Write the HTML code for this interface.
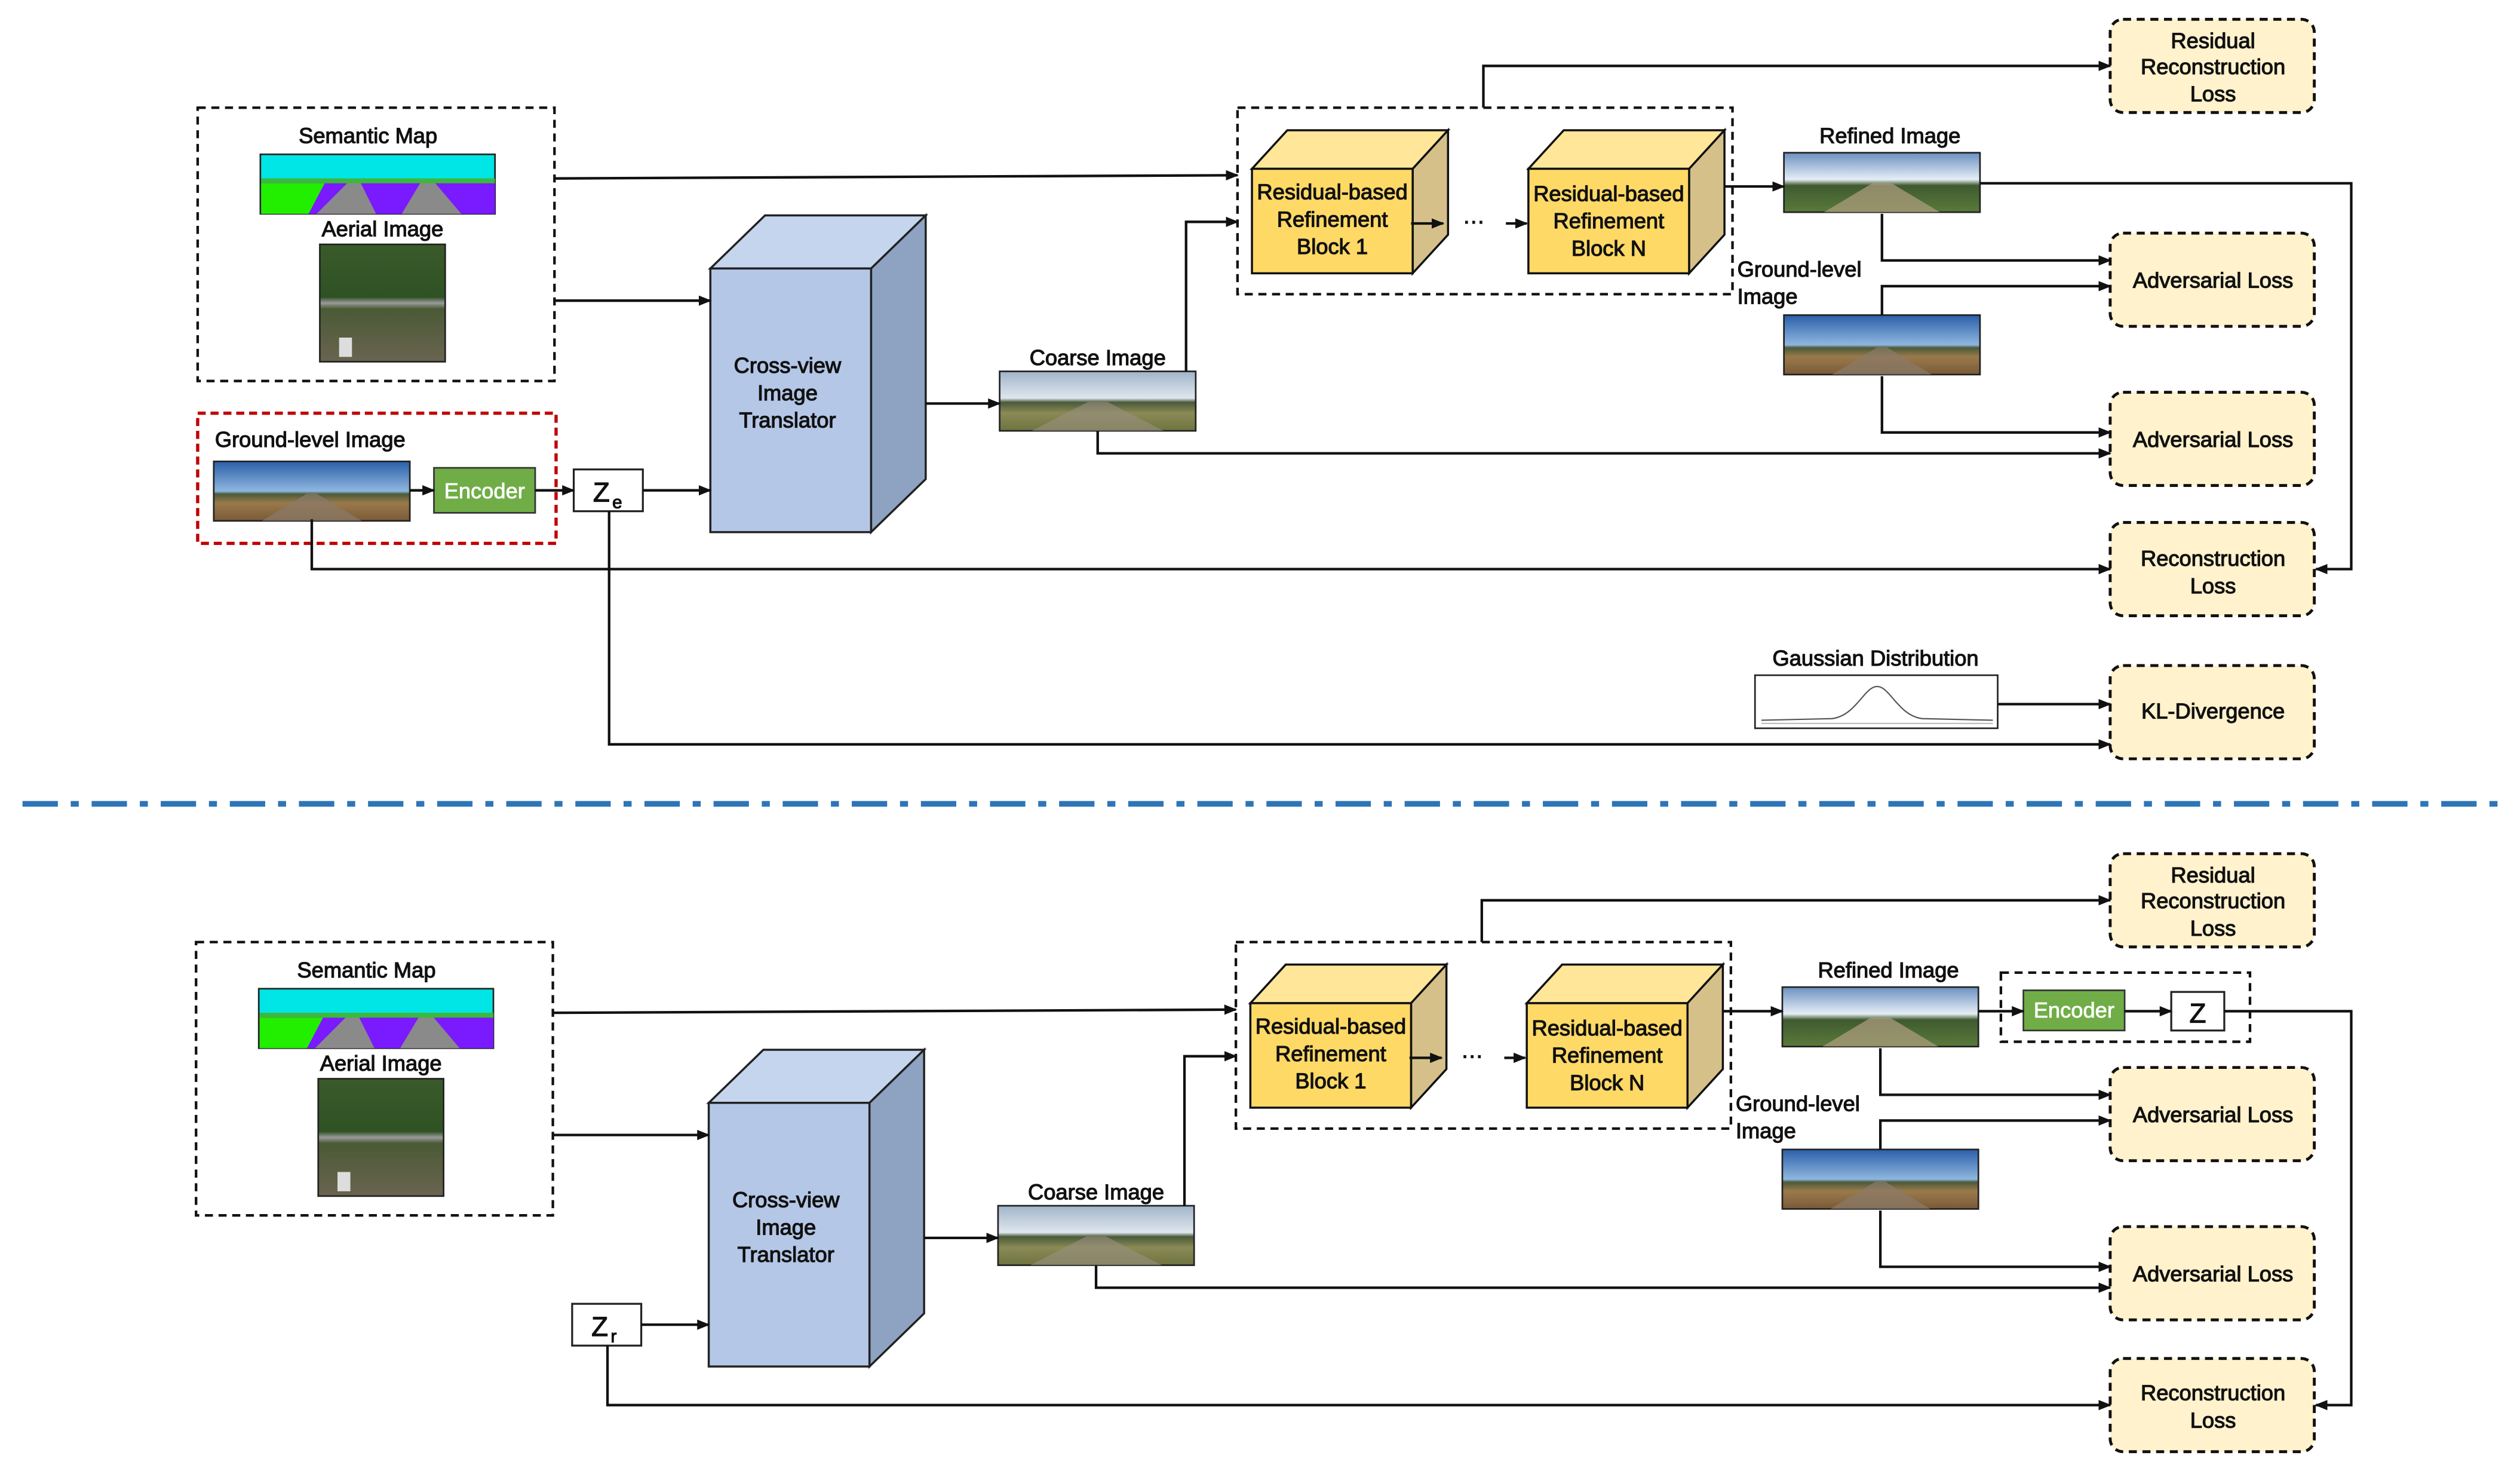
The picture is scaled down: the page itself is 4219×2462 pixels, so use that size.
<!DOCTYPE html>
<html><head><meta charset="utf-8"><style>
html,body{margin:0;padding:0;background:#fff}
svg{display:block}
text{font-family:"Liberation Sans",sans-serif;fill:#111;stroke:#111;stroke-width:0.45}
</style></head><body>
<svg width="4219" height="2462" viewBox="0 0 1568 915" preserveAspectRatio="none" xmlns="http://www.w3.org/2000/svg">
<defs>
<marker id="a" viewBox="0 0 10 10" refX="9" refY="5" markerWidth="5" markerHeight="5" orient="auto"><path d="M0,1 L10,5 L0,9 z" fill="#111"/></marker>
<linearGradient id="sky" x1="0" y1="0" x2="0" y2="1"><stop offset="0" stop-color="#2a5fa8"/><stop offset="0.5" stop-color="#8fb6df"/><stop offset="0.55" stop-color="#4a5a3a"/><stop offset="0.7" stop-color="#9a7a4a"/><stop offset="1" stop-color="#7a5a38"/></linearGradient>
<linearGradient id="sky2" x1="0" y1="0" x2="0" y2="1"><stop offset="0" stop-color="#a0b4c8"/><stop offset="0.45" stop-color="#dfe6ee"/><stop offset="0.52" stop-color="#4a5a3a"/><stop offset="0.7" stop-color="#8a8a55"/><stop offset="1" stop-color="#6f7440"/></linearGradient>
<linearGradient id="sky3" x1="0" y1="0" x2="0" y2="1"><stop offset="0" stop-color="#6a90c0"/><stop offset="0.45" stop-color="#e6eef6"/><stop offset="0.55" stop-color="#3f5a30"/><stop offset="1" stop-color="#5a7a3a"/></linearGradient>
<linearGradient id="aer" x1="0" y1="0" x2="0" y2="1"><stop offset="0" stop-color="#3a5a2a"/><stop offset="0.45" stop-color="#2f5224"/><stop offset="0.5" stop-color="#9a9a9a"/><stop offset="0.55" stop-color="#4a5a35"/><stop offset="1" stop-color="#6a6450"/></linearGradient>
<g id="pano1"><rect width="122" height="37" fill="url(#sky)" stroke="#222" stroke-width="1"/><path d="M30,37 L58,20 L64,20 L92,37z" fill="#8a7a6a" opacity="0.7"/></g>
<g id="pano2"><rect width="122" height="37" fill="url(#sky2)" stroke="#222" stroke-width="1"/><path d="M20,37 L55,19 L67,19 L102,37z" fill="#9a8f80" opacity="0.6"/></g>
<g id="pano3"><rect width="122" height="37" fill="url(#sky3)" stroke="#222" stroke-width="1"/><path d="M25,37 L55,19 L67,19 L97,37z" fill="#b0a080" opacity="0.7"/></g>
<g id="sem"><rect width="146" height="37" fill="#00e5e5" stroke="#222" stroke-width="1"/><path d="M0.5,18 L60,17 L100,17 L146,18 L146,37 L0.5,37z" fill="#7a1aff"/><path d="M0.5,18 L40,18 L30,37 L0.5,37z" fill="#22ee00"/><path d="M35,37 L55,17 L62,17 L72,37z M88,37 L100,17 L108,17 L125,37z" fill="#8a8a8a"/><path d="M0.5,15 L146,15 L146,18 L0.5,18z" fill="#3cb83c"/></g>
<g id="aerial"><rect width="78" height="73" fill="url(#aer)" stroke="#222" stroke-width="1"/><rect x="12" y="58" width="8" height="12" fill="#ddd"/></g>
<g id="loss"><rect width="127" height="58" rx="8" fill="#fff2cc" stroke="#111" stroke-width="1.8" stroke-dasharray="5,3.5"/></g>
<g id="cube"><path d="M0,24 L22,0 L122,0 L100,24z" fill="#ffe699" stroke="#111" stroke-width="1.3"/><path d="M100,24 L122,0 L122,65 L100,89z" fill="#d6c08a" stroke="#111" stroke-width="1.3"/><rect x="0" y="24" width="100" height="65" fill="#ffd966" stroke="#111" stroke-width="1.3"/></g>
<g id="trans"><path d="M0,33 L34,0 L134,0 L100,33z" fill="#c6d5ee" stroke="#222" stroke-width="1.3"/><path d="M100,33 L134,0 L134,164 L100,197z" fill="#8ea3c2" stroke="#222" stroke-width="1.3"/><rect x="0" y="33" width="100" height="164" fill="#b4c7e7" stroke="#222" stroke-width="1.3"/></g>
</defs>

<g fill="none" stroke="#111" stroke-width="1.6">
<rect x="123" y="67" width="222" height="170" stroke-dasharray="5,3.5"/>
<rect x="123" y="257" width="223" height="81" stroke="#c00000" stroke-width="2" stroke-dasharray="5,3"/>
<rect x="770" y="67" width="308" height="116" stroke-dasharray="5,3.5"/>
</g>
<use href="#sem" x="162" y="96"/>
<use href="#aerial" x="199" y="152"/>
<use href="#pano1" x="133" y="287"/>
<rect x="270" y="291" width="63" height="28" fill="#70ad47" stroke="#333" stroke-width="1"/>
<text x="301.5" y="310" text-anchor="middle" font-size="13.5" style="fill:#fff;stroke:#fff;stroke-width:0.3">Encoder</text>
<rect x="357" y="292" width="43" height="26" fill="#fff" stroke="#222" stroke-width="1.2"/>
<text x="369" y="312" font-size="17">Z</text><text x="381" y="316" font-size="11">e</text>
<use href="#trans" x="442" y="134"/>
<use href="#pano2" x="622" y="231"/>
<use href="#cube" x="779" y="81"/>
<use href="#cube" x="951" y="81"/>
<use href="#pano3" x="1110" y="95"/>
<use href="#pano1" x="1110" y="196"/>
<use href="#loss" x="1313" y="12"/>
<use href="#loss" x="1313" y="145"/>
<use href="#loss" x="1313" y="244"/>
<use href="#loss" x="1313" y="325"/>
<use href="#loss" x="1313" y="414"/>
<rect x="1092" y="420" width="151" height="33" fill="#fff" stroke="#222" stroke-width="1"/>
<path d="M1096,448 L1140,447 C1155,445 1160,427 1168,427 C1176,427 1181,445 1196,447 L1240,448" fill="none" stroke="#555" stroke-width="0.8"/>
<line x1="1096" y1="450" x2="1240" y2="450" stroke="#bbb" stroke-width="0.8"/>

<g fill="none" stroke="#111" stroke-width="1.6" marker-end="url(#a)">
<path d="M345,111 L770,109"/>
<path d="M345,187 L442,187"/>
<path d="M255,305 L270,305"/>
<path d="M333,305 L357,305"/>
<path d="M400,305 L442,305"/>
<path d="M576,251 L622,251"/>
<path d="M738,231 L738,138 L770,138"/>
<path d="M683,268 L683,282 L1313,282"/>
<path d="M923,67 L923,41 L1313,41"/>
<path d="M878,139 L898,139"/>
<path d="M937,139 L950,139"/>
<path d="M1073,116 L1110,116"/>
<path d="M1232,114 L1463,114 L1463,354 L1441,354"/>
<path d="M1171,133 L1171,162 L1313,162"/>
<path d="M1171,196 L1171,178 L1313,178"/>
<path d="M1171,234 L1171,269 L1313,269"/>
<path d="M194,323 L194,354 L1313,354"/>
<path d="M379,318 L379,463 L1313,463"/>
<path d="M1243,438 L1313,438"/>
</g>

<g font-size="13.5" text-anchor="middle">
<text x="229" y="89">Semantic Map</text>
<text x="238" y="147">Aerial Image</text>
<text x="193" y="278">Ground-level Image</text>
<text x="490" y="232">Cross-view</text><text x="490" y="249">Image</text><text x="490" y="266">Translator</text>
<text x="683" y="227">Coarse Image</text>
<text x="829" y="124">Residual-based</text><text x="829" y="141">Refinement</text><text x="829" y="158">Block 1</text>
<text x="1001" y="125">Residual-based</text><text x="1001" y="142">Refinement</text><text x="1001" y="159">Block N</text>
<text x="917" y="142">···</text>
<text x="1176" y="89">Refined Image</text>
<text x="1081" y="172" text-anchor="start">Ground-level</text><text x="1081" y="189" text-anchor="start">Image</text>
<text x="1377" y="30">Residual</text><text x="1377" y="46">Reconstruction</text><text x="1377" y="63">Loss</text>
<text x="1377" y="179">Adversarial Loss</text>
<text x="1377" y="278">Adversarial Loss</text>
<text x="1377" y="352">Reconstruction</text><text x="1377" y="369">Loss</text>
<text x="1377" y="447">KL-Divergence</text>
<text x="1167" y="414">Gaussian Distribution</text>
</g>

<line x1="14" y1="500" x2="1560" y2="500" stroke="#2e75b6" stroke-width="3.5" stroke-dasharray="22,8,5,8"/>

<g transform="translate(-1,519)">
<rect x="123" y="67" width="222" height="170" fill="none" stroke="#111" stroke-width="1.6" stroke-dasharray="5,3.5"/>
<rect x="770" y="67" width="308" height="116" fill="none" stroke="#111" stroke-width="1.6" stroke-dasharray="5,3.5"/>
<use href="#sem" x="162" y="96"/>
<use href="#aerial" x="199" y="152"/>
<use href="#trans" x="442" y="134"/>
<use href="#pano2" x="622" y="231"/>
<use href="#cube" x="779" y="81"/>
<use href="#cube" x="951" y="81"/>
<use href="#pano3" x="1110" y="95"/>
<use href="#pano1" x="1110" y="196"/>
<use href="#loss" x="1314" y="12"/>
<use href="#loss" x="1314" y="145"/>
<use href="#loss" x="1314" y="244"/>
<use href="#loss" x="1314" y="326"/>
<rect x="1246" y="86" width="155" height="43" fill="none" stroke="#111" stroke-width="1.6" stroke-dasharray="5,3.5"/>
<rect x="1260" y="97" width="63" height="25" fill="#70ad47" stroke="#333" stroke-width="1"/>
<text x="1291.5" y="114" text-anchor="middle" font-size="13.5" style="fill:#fff;stroke:#fff;stroke-width:0.3">Encoder</text>
<rect x="1352" y="98" width="33" height="24" fill="#fff" stroke="#222" stroke-width="1.2"/>
<text x="1368.5" y="117" text-anchor="middle" font-size="17">Z</text>
<rect x="357" y="292" width="43" height="26" fill="#fff" stroke="#222" stroke-width="1.2"/>
<text x="369" y="312" font-size="17">Z</text><text x="381" y="316" font-size="11">r</text>
<g fill="none" stroke="#111" stroke-width="1.6" marker-end="url(#a)">
<path d="M345,111 L770,109"/>
<path d="M345,187 L442,187"/>
<path d="M400,305 L442,305"/>
<path d="M576,251 L622,251"/>
<path d="M738,231 L738,138 L770,138"/>
<path d="M683,268 L683,282 L1314,282"/>
<path d="M923,67 L923,41 L1314,41"/>
<path d="M878,139 L898,139"/>
<path d="M937,139 L950,139"/>
<path d="M1073,110 L1110,110"/>
<path d="M1232,110 L1260,110"/>
<path d="M1323,110 L1352,110"/>
<path d="M1385,110 L1464,110 L1464,355 L1442,355"/>
<path d="M1171,133 L1171,162 L1314,162"/>
<path d="M1171,196 L1171,178 L1314,178"/>
<path d="M1171,234 L1171,269 L1314,269"/>
<path d="M379,318 L379,355 L1314,355"/>
</g>
<g font-size="13.5" text-anchor="middle">
<text x="229" y="89">Semantic Map</text>
<text x="238" y="147">Aerial Image</text>
<text x="490" y="232">Cross-view</text><text x="490" y="249">Image</text><text x="490" y="266">Translator</text>
<text x="683" y="227">Coarse Image</text>
<text x="829" y="124">Residual-based</text><text x="829" y="141">Refinement</text><text x="829" y="158">Block 1</text>
<text x="1001" y="125">Residual-based</text><text x="1001" y="142">Refinement</text><text x="1001" y="159">Block N</text>
<text x="917" y="142">···</text>
<text x="1176" y="89">Refined Image</text>
<text x="1081" y="172" text-anchor="start">Ground-level</text><text x="1081" y="189" text-anchor="start">Image</text>
<text x="1378" y="30">Residual</text><text x="1378" y="46">Reconstruction</text><text x="1378" y="63">Loss</text>
<text x="1378" y="179">Adversarial Loss</text>
<text x="1378" y="278">Adversarial Loss</text>
<text x="1378" y="352">Reconstruction</text><text x="1378" y="369">Loss</text>
</g>
</g>
</svg>
</body></html>
